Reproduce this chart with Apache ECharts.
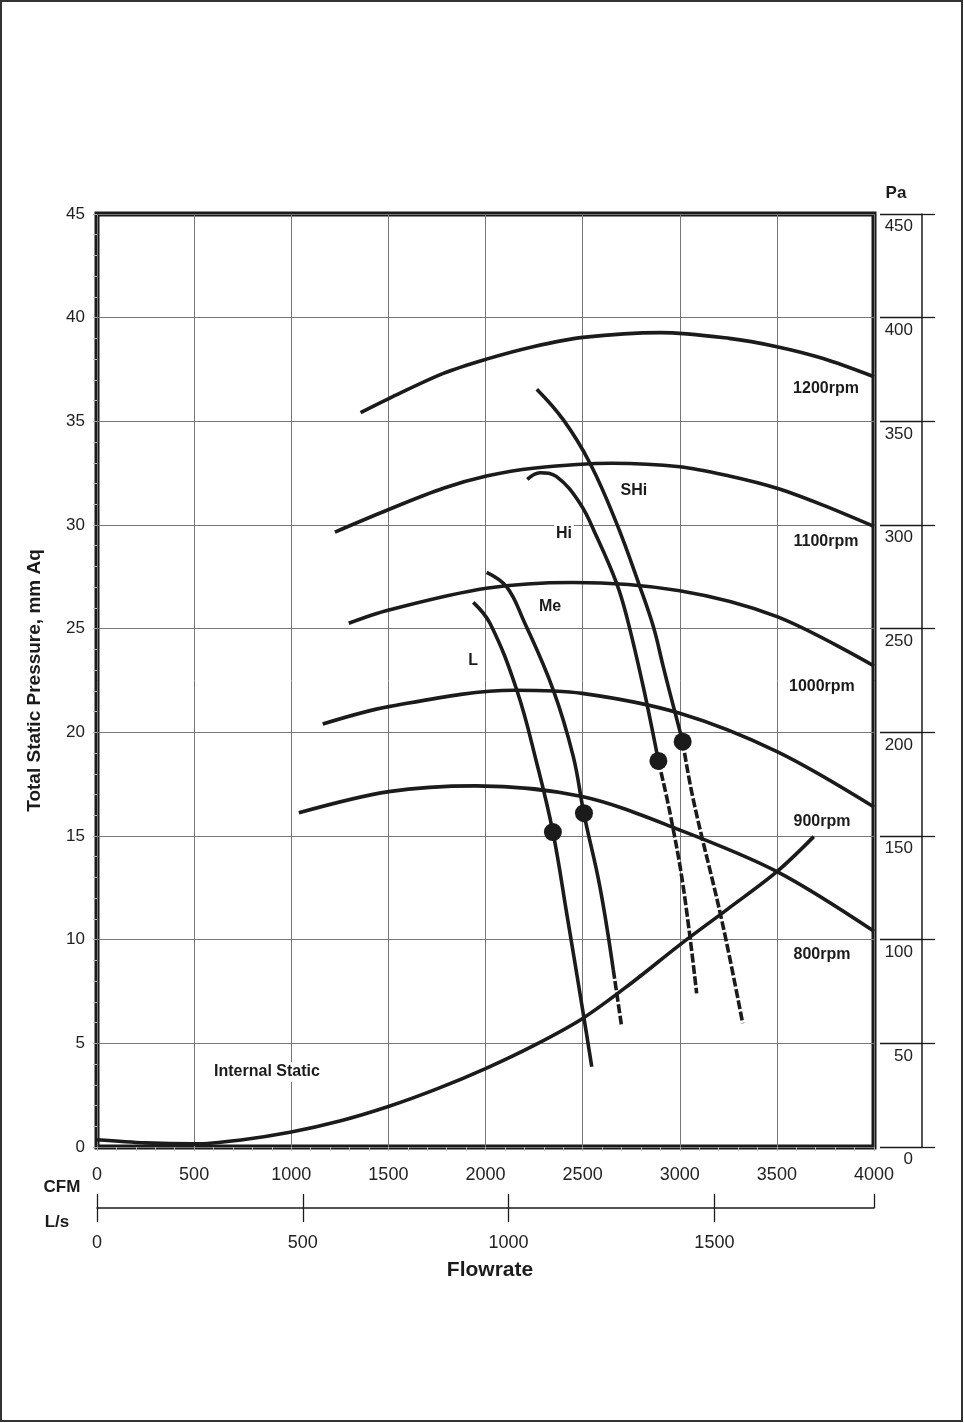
<!DOCTYPE html>
<html>
<head>
<meta charset="utf-8">
<script src="https://cdn.jsdelivr.net/npm/echarts@6/dist/echarts.min.js"></script>
<style>
html,body{margin:0;padding:0;background:#fff;}
#chart{width:964px;height:1423px;}
</style>
</head>
<body>
<div id="chart"></div>
<script>
// fan curves, flow in CFM, pressure in mm Aq
var rpm1200Flow = [1357, 1505, 1783, 2005, 2245, 2502, 2900, 3255, 3500, 3734, 4000];
var rpm1200Press = [35.42, 36.11, 37.31, 38.0, 38.6, 39.05, 39.28, 39.0, 38.6, 38.04, 37.15];
var rpm1100Flow = [1225, 1505, 1783, 2005, 2245, 2650, 3001, 3255, 3500, 3734, 4000];
var rpm1100Press = [29.66, 30.76, 31.77, 32.36, 32.74, 32.98, 32.81, 32.36, 31.77, 30.97, 29.93];
var rpm1000Flow = [1296, 1502, 2004, 2450, 3000, 3501, 4000];
var rpm1000Press = [25.26, 25.9, 26.95, 27.23, 26.83, 25.58, 23.2];
var rpm900Flow = [1162, 1502, 2150, 2497, 3000, 3501, 4000];
var rpm900Press = [20.4, 21.24, 22.03, 21.88, 20.92, 19.07, 16.4];
var rpm800Flow = [1039, 1502, 1950, 2497, 3000, 3501, 4000];
var rpm800Press = [16.12, 17.14, 17.42, 16.9, 15.29, 13.28, 10.4];

var internalFlow = [0, 250, 500, 750, 1000, 1250, 1500, 1750, 2000, 2250, 2500, 2750, 3000, 3250, 3500, 3690];
var internalPress = [0.35, 0.2, 0.15, 0.35, 0.72, 1.25, 1.95, 2.8, 3.78, 4.9, 6.2, 7.9, 9.75, 11.5, 13.28, 14.97];

// system curves (fan speed settings); dashFrom = first point of the dashed part
var lFlow = [1937, 2023, 2161, 2264, 2347, 2418, 2503, 2547];
var lPress = [26.27, 25.26, 22.04, 18.51, 15.19, 11.27, 6.45, 3.87];
var meFlow = [2006, 2109, 2195, 2349, 2452, 2507, 2589, 2658, 2701];
var mePress = [27.72, 27.02, 25.42, 22.04, 18.83, 16.06, 12.55, 8.54, 5.8];
var hiFlow = [2215, 2281, 2366, 2486, 2572, 2675, 2727, 2812, 2890, 2950, 3018, 3087];
var hiPress = [32.2, 32.52, 32.33, 31.05, 29.44, 27.19, 25.58, 22.2, 18.62, 16.1, 12.55, 7.41];
var shiFlow = [2264, 2401, 2538, 2675, 2795, 2864, 2915, 2950, 3015, 3070, 3216, 3324];
var shiPress = [36.55, 35.07, 32.98, 30.08, 27.02, 25.1, 23.17, 21.88, 19.55, 16.74, 10.95, 5.97];
var lDashFrom = -1, meDashFrom = 7, hiDashFrom = 8, shiDashFrom = 8;

// operating points
var dotFlow = [2347, 2507, 2890, 3015];
var dotPress = [15.19, 16.1, 18.62, 19.55];

// text notes on the plot
var noteText = ['1200rpm', '1100rpm', '1000rpm', '900rpm', '800rpm', 'SHi', 'Hi', 'Me', 'L', 'Internal Static'];
var noteFlow = [3753, 3753, 3732, 3732, 3732, 2764, 2404, 2332, 1936, 875];
var notePress = [36.56, 29.18, 22.23, 15.68, 9.26, 31.64, 29.57, 26.05, 23.44, 3.62];

var cfmMax = 4000, cfmStep = 500;
var pressMax = 45, pressStep = 5;
var paMax = 450, paStep = 50;
var lpsMax = cfmMax / 2.11888, lpsStep = 500;

var ink = '#1b1b1b';
var font = 'Liberation Sans, Arial, sans-serif';

function plain(v) { return String(Math.round(v)); }

function pairs(fx, fy, from, to) {
	var out = [];
	for (var i = from; i <= to; i++) out.push([fx[i], fy[i]]);
	return out;
}

function curve(fx, fy) {
	return {
		type: 'line', smooth: 0.33, symbol: 'none', z: 5,
		lineStyle: {color: ink, width: 3.6},
		data: pairs(fx, fy, 0, fx.length - 1)
	};
}

function fanCurve(fx, fy, dashFrom) {
	var last = fx.length - 1;
	var res = [];
	var solidEnd = dashFrom < 0 ? last : dashFrom;
	res.push({
		type: 'line', smooth: 0.4, symbol: 'none', z: 5,
		lineStyle: {color: ink, width: 3.6},
		data: pairs(fx, fy, 0, solidEnd)
	});
	if (dashFrom >= 0) {
		res.push({
			type: 'line', smooth: 0.4, symbol: 'none', z: 5,
			lineStyle: {color: ink, width: 3.6, type: [9, 2.5]},
			data: pairs(fx, fy, dashFrom, last)
		});
	}
	return res;
}

var series = [
	curve(rpm1200Flow, rpm1200Press),
	curve(rpm1100Flow, rpm1100Press),
	curve(rpm1000Flow, rpm1000Press),
	curve(rpm900Flow, rpm900Press),
	curve(rpm800Flow, rpm800Press),
	curve(internalFlow, internalPress)
].concat(
	fanCurve(lFlow, lPress, lDashFrom),
	fanCurve(meFlow, mePress, meDashFrom),
	fanCurve(hiFlow, hiPress, hiDashFrom),
	fanCurve(shiFlow, shiPress, shiDashFrom)
);

series.push({
	type: 'scatter', symbol: 'circle', symbolSize: 18, z: 8,
	itemStyle: {color: ink, opacity: 1},
	data: pairs(dotFlow, dotPress, 0, dotFlow.length - 1)
});

series.push({
	type: 'scatter', symbolSize: 0, z: 7,
	itemStyle: {opacity: 1},
	data: noteText.map(function (t, i) { return {name: t, value: [noteFlow[i], notePress[i]]}; }),
	label: {
		show: true, position: 'inside', formatter: '{b}', opacity: 1,
		color: ink, fontFamily: font, fontWeight: 'bold', fontSize: 16,
		backgroundColor: '#fff', padding: [2, 2]
	}
});

var chart = echarts.init(document.getElementById('chart'));
var option = {
	backgroundColor: '#fff',
	animation: false,
	grid: {
		left: 97, top: 214, right: 90, bottom: 276,
		show: true, borderColor: ink, borderWidth: 5, backgroundColor: 'transparent'
	},
	xAxis: [
		{
			type: 'value', min: 0, max: cfmMax, interval: cfmStep,
			axisLine: {show: false, onZero: false},
			axisTick: {show: true, length: 4, lineStyle: {color: '#aaa'}},
			minorTick: {show: true, splitNumber: 5, length: 4, lineStyle: {color: '#bbb'}},
			splitLine: {show: true, lineStyle: {color: '#777', width: 1}},
			axisLabel: {margin: 19, fontSize: 18, color: '#222', fontFamily: font, formatter: plain}
		},
		{
			type: 'value', min: 0, max: lpsMax, interval: lpsStep, position: 'bottom', offset: 61,
			axisLine: {show: true, onZero: false, lineStyle: {color: ink, width: 1.5}},
			axisTick: {show: true, length: 14, lineStyle: {color: ink, width: 1.3}},
			splitLine: {show: false},
			axisLabel: {margin: 26, fontSize: 18, color: '#222', fontFamily: font, showMaxLabel: false, formatter: plain}
		},
		{
			type: 'value', min: 0, max: lpsMax, interval: lpsStep, position: 'bottom', offset: 61,
			axisLine: {show: false, onZero: false},
			axisTick: {show: true, inside: true, length: 14, lineStyle: {color: ink, width: 1.3}},
			splitLine: {show: false},
			axisLabel: {show: false}
		}
	],
	yAxis: [
		{
			type: 'value', min: 0, max: pressMax, interval: pressStep,
			name: 'Total Static Pressure, mm Aq', nameLocation: 'middle', nameGap: 53,
			nameTextStyle: {fontSize: 19, fontWeight: 'bold', color: ink, fontFamily: font},
			axisLine: {show: false, onZero: false},
			axisTick: {show: true, length: 4, lineStyle: {color: '#aaa'}},
			minorTick: {show: true, splitNumber: 5, length: 4, lineStyle: {color: '#bbb'}},
			splitLine: {show: true, lineStyle: {color: '#777', width: 1}},
			axisLabel: {margin: 12, fontSize: 17, color: '#222', fontFamily: font}
		},
		{
			type: 'value', min: 0, max: paMax, interval: paStep, position: 'right', offset: 48,
			axisLine: {show: true, onZero: false, lineStyle: {color: ink, width: 1.5}},
			axisTick: {show: true, inside: true, length: 42, lineStyle: {color: ink, width: 1.3}},
			splitLine: {show: false},
			axisLabel: {inside: true, margin: 9, fontSize: 17, color: '#222', fontFamily: font,
				verticalAlign: 'top', padding: [4, 0, 0, 0]}
		},
		{
			type: 'value', min: 0, max: paMax, interval: paStep, position: 'right', offset: 48,
			axisLine: {show: false, onZero: false},
			axisTick: {show: true, length: 13, lineStyle: {color: ink, width: 1.3}},
			splitLine: {show: false},
			axisLabel: {show: false}
		}
	],
	graphic: [
		{type: 'rect', shape: {x: 1, y: 1, width: 961, height: 1420}, style: {fill: 'none', stroke: '#333', lineWidth: 2}},
		{type: 'text', x: 62, y: 1187, style: {text: 'CFM', fill: ink, font: 'bold 17px ' + font, textAlign: 'center', textVerticalAlign: 'middle'}},
		{type: 'text', x: 57, y: 1222, style: {text: 'L/s', fill: ink, font: 'bold 17px ' + font, textAlign: 'center', textVerticalAlign: 'middle'}},
		{type: 'text', x: 490, y: 1270, style: {text: 'Flowrate', fill: ink, font: 'bold 21px ' + font, textAlign: 'center', textVerticalAlign: 'middle'}},
		{type: 'text', x: 896, y: 193, style: {text: 'Pa', fill: ink, font: 'bold 17px ' + font, textAlign: 'center', textVerticalAlign: 'middle'}}
	],
	series: series
};
chart.setOption(option);
</script>
</body>
</html>
